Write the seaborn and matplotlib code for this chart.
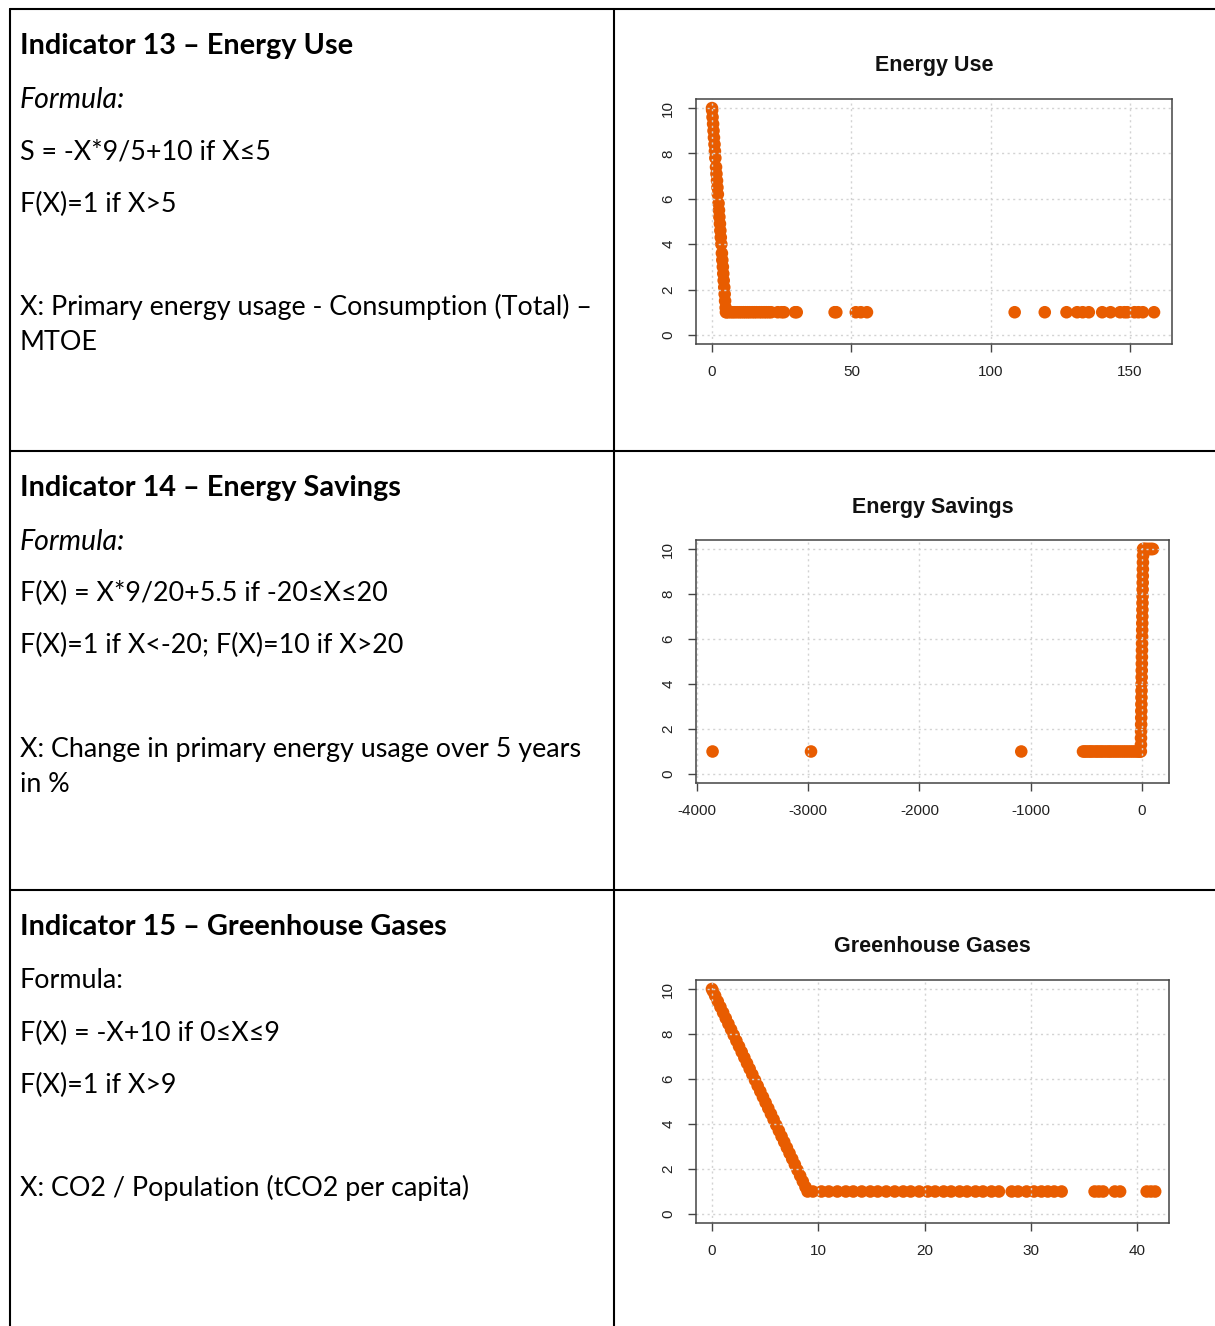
import matplotlib
matplotlib.use('Agg')
import matplotlib.pyplot as plt
import seaborn as sns
import pandas as pd
from matplotlib.lines import Line2D

# ---- data ----
use_slope_x = [0.0, 0.05, 0.2, 0.4, 0.55, 0.7, 0.9, 1.05, 1.2, 1.45, 1.6, 1.8, 1.95, 2.1, 2.35, 2.5,
               2.65, 2.85, 3.0, 3.15, 3.35, 3.55, 3.7, 3.9, 4.05, 4.2, 4.4, 4.55, 4.7, 4.9, 5.0]
use_slope_y = [10.0, 9.9, 9.6, 9.3, 9.0, 8.7, 8.4, 8.1, 7.8, 7.4, 7.1, 6.8, 6.5, 6.2, 5.8, 5.5,
               5.2, 4.9, 4.6, 4.3, 4.0, 3.6, 3.3, 3.0, 2.7, 2.4, 2.1, 1.8, 1.5, 1.2, 1.0]
use_flat_x = [5.3, 6.0, 6.8, 7.5, 8.2, 9.0, 9.8, 10.5, 11.3, 12.0, 12.8, 13.5, 14.4, 15.2, 16.0, 17.0,
              17.8, 18.7, 19.5, 20.4, 21.2, 23.6, 25.0, 25.8, 29.8, 30.4, 44.0, 44.6, 51.6, 53.4, 55.6,
              108.6, 119.4, 127.2, 131.0, 133.0, 135.2, 140.0, 143.0, 146.4, 148.0, 149.0, 151.6, 153.0,
              154.6, 158.6]

sav_low_x = [-3860, -2975, -1085]
sav_flat_x = [-530, -515, -500, -480, -465, -450, -430, -410, -395, -375, -360, -340, -320, -300,
              -285, -265, -245, -225, -205, -185, -165, -145, -125, -105, -85, -65, -45, -30, -18]
sav_rise_x = [-10, -9.3, -8.7, -8.0, -7.3, -6.7, -6.0, -5.3, -4.7, -4.0, -3.3, -2.7, -2.0, -1.3, -0.7,
              0, 0.7, 1.3, 2.0, 2.7, 3.3, 4.0, 4.7, 5.3, 6.0, 6.7, 7.3, 8.0, 8.7, 9.3, 10]
sav_rise_y = [1.0, 1.3, 1.6, 1.9, 2.2, 2.5, 2.8, 3.1, 3.4, 3.7, 4.0, 4.3, 4.6, 4.9, 5.2, 5.5, 5.8,
              6.1, 6.4, 6.7, 7.0, 7.3, 7.6, 7.9, 8.2, 8.5, 8.8, 9.1, 9.4, 9.7, 10.0]
sav_top_x = [14, 22, 30, 40, 52, 64, 76, 88, 98]

ghg_slope_x = [0, 0.1, 0.3, 0.55, 0.8, 1.05, 1.3, 1.55, 1.8, 2.05, 2.3, 2.55, 2.8, 3.05, 3.3, 3.55,
               3.8, 4.05, 4.3, 4.55, 4.8, 5.05, 5.3, 5.55, 5.8, 6.05, 6.3, 6.55, 6.8, 7.05, 7.3, 7.55,
               7.8, 8.05, 8.3, 8.55, 8.8, 9.0]
ghg_slope_y = [10, 9.9, 9.7, 9.45, 9.2, 8.95, 8.7, 8.45, 8.2, 7.95, 7.7, 7.45, 7.2, 6.95, 6.7, 6.45,
               6.2, 5.95, 5.7, 5.45, 5.2, 4.95, 4.7, 4.45, 4.2, 3.95, 3.7, 3.45, 3.2, 2.95, 2.7, 2.45,
               2.2, 1.95, 1.7, 1.45, 1.2, 1.0]
ghg_flat_x = [9.5, 10.3, 11.0, 11.8, 12.6, 13.3, 14.1, 14.9, 15.6, 16.4, 17.2, 18.0, 18.7, 19.5, 20.3,
              21.0, 21.8, 22.5, 23.3, 24.0, 24.8, 25.5, 26.3, 27.0, 28.2, 28.8, 29.6, 30.3, 31.0, 31.6,
              32.2, 32.9, 36.0, 36.4, 36.8, 37.9, 38.4, 40.9, 41.3, 41.7]

titles = ['Energy Use', 'Energy Savings', 'Greenhouse Gases']

row_texts = [
    [('Indicator 13 \u2013 Energy Use', 'bold', 'normal', 46),
     ('Formula:', 'normal', 'italic', 100),
     ('S = -X*9/5+10 if X\u22645', 'normal', 'normal', 152),
     ('F(X)=1 if X>5', 'normal', 'normal', 204),
     ('X: Primary energy usage - Consumption (Total) \u2013', 'normal', 'normal', 307),
     ('MTOE', 'normal', 'normal', 343)],
    [('Indicator 14 \u2013 Energy Savings', 'bold', 'normal', 488),
     ('Formula:', 'normal', 'italic', 542),
     ('F(X) = X*9/20+5.5 if -20\u2264X\u226420', 'normal', 'normal', 593),
     ('F(X)=1 if X<-20; F(X)=10 if X>20', 'normal', 'normal', 645),
     ('X: Change in primary energy usage over 5 years', 'normal', 'normal', 749),
     ('in %', 'normal', 'normal', 785)],
    [('Indicator 15 \u2013 Greenhouse Gases', 'bold', 'normal', 927),
     ('Formula:', 'normal', 'normal', 981),
     ('F(X) = -X+10 if 0\u2264X\u22649', 'normal', 'normal', 1033),
     ('F(X)=1 if X>9', 'normal', 'normal', 1085),
     ('X: CO2 / Population (tCO2 per capita)', 'normal', 'normal', 1188)],
]

use_df = pd.DataFrame({'x': use_slope_x + use_flat_x,
                       'score': use_slope_y + [1.0] * len(use_flat_x)})
sav_df = pd.DataFrame({'x': sav_low_x + sav_flat_x + sav_rise_x + sav_top_x,
                       'score': [1.0] * (len(sav_low_x) + len(sav_flat_x)) + sav_rise_y
                                + [10.0] * len(sav_top_x)})
ghg_df = pd.DataFrame({'x': ghg_slope_x + ghg_flat_x,
                       'score': ghg_slope_y + [1.0] * len(ghg_flat_x)})

# ---- figure ----
W, H = 1215, 1326
sns.set_theme(style='white')
plt.rcParams['font.family'] = ['Liberation Sans', 'DejaVu Sans']
plt.rcParams['axes.unicode_minus'] = False
fig = plt.figure(figsize=(W / 100, H / 100), dpi=100)
fig.patch.set_facecolor('white')

orange = '#E85C00'


def px_box(left, top, right, bottom):
    return [left / W, 1 - bottom / H, (right - left) / W, (bottom - top) / H]


panels = [
    (use_df, px_box(696, 99, 1172, 344), (-5.74, 165.05), [0, 50, 100, 150], 66),
    (sav_df, px_box(696, 540, 1169, 783), (-4009, 243), [-4000, -3000, -2000, -1000, 0], 507),
    (ghg_df, px_box(696, 980, 1169, 1223), (-1.5, 43.0), [0, 10, 20, 30, 40], 946),
]

for (df, box, xlim, xticks, title_y), title in zip(panels, titles):
    ax = fig.add_axes(box)
    sns.scatterplot(data=df, x='x', y='score', ax=ax, color=orange, s=82,
                    edgecolor='none', linewidth=0, zorder=1)
    ax.set_axisbelow(False)
    ax.set_xlim(*xlim)
    ax.set_ylim(-0.4, 10.4)
    ax.set_xticks(xticks)
    ax.set_yticks([0, 2, 4, 6, 8, 10])
    ax.grid(True, color='#D3D3D3', linestyle=(0, (1.5, 2.5)), linewidth=1, zorder=2)
    ax.set_xlabel('')
    ax.set_ylabel('')
    for s in ax.spines.values():
        s.set_color('#444444')
        s.set_linewidth(1.1)
        s.set_zorder(3)
    ax.tick_params(axis='both', which='major', direction='out', length=6, width=1,
                   color='#444444', labelsize=11, labelcolor='#222222', pad=9,
                   bottom=True, left=True)
    for lab in ax.get_yticklabels():
        lab.set_rotation(90)
        lab.set_va('center')
    cx = box[0] + box[2] / 2
    fig.text(cx, 1 - title_y / H, title, ha='center', va='center',
             fontsize=15.5, fontweight='bold', color='#111111')

# left column text
sizes = {('bold', 'normal'): 20.8, ('normal', 'italic'): 20.5, ('normal', 'normal'): 19.4}
for rows in row_texts:
    for txt, weight, style, y in rows:
        fig.text(20 / W, 1 - y / H, txt, ha='left', va='center',
                 fontsize=sizes[(weight, style)],
                 fontweight=weight, fontstyle=style, color='black',
                 family=['Lato', 'DejaVu Sans'])

# table lines
def hline(y, x0, x1):
    fig.add_artist(Line2D([x0 / W, x1 / W], [1 - y / H, 1 - y / H], color='black', lw=1.5))


def vline(x, y0, y1):
    fig.add_artist(Line2D([x / W, x / W], [1 - y0 / H, 1 - y1 / H], color='black', lw=1.5))


hline(9, 10, W)
hline(451, 10, W)
hline(890, 10, W)
vline(10, 9, H)
vline(614, 9, H)

fig.savefig('out.png', dpi=100, facecolor='white')
